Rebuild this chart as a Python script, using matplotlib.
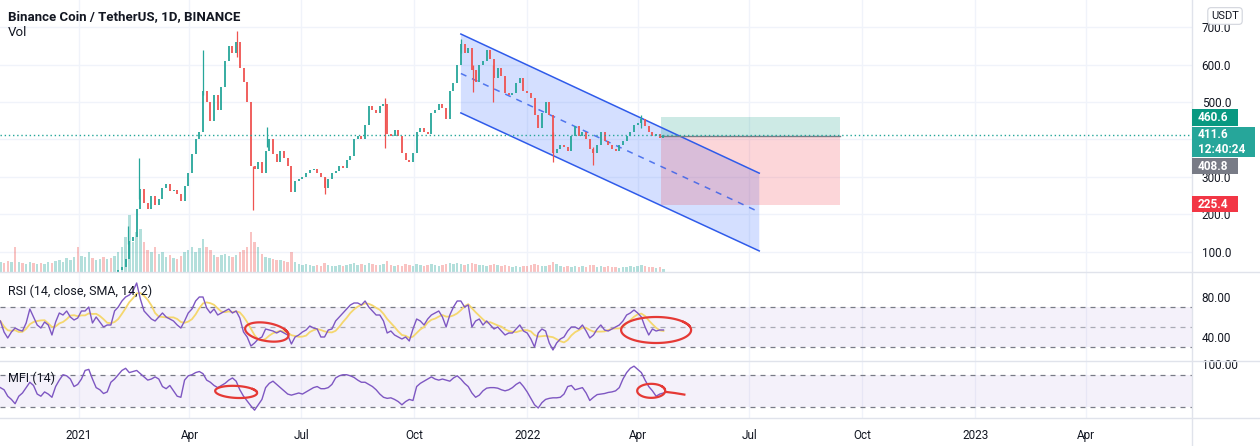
import numpy as np
import pandas as pd
import matplotlib
matplotlib.use('Agg')
import matplotlib.pyplot as plt
import matplotlib.dates as mdates
from matplotlib.patches import Rectangle, Polygon
from matplotlib.lines import Line2D
from matplotlib.ticker import FormatStrFormatter, FuncFormatter

plt.rcParams['font.family'] = ['Roboto', 'DejaVu Sans']

# 3-day samples of BNB/USDT, starting 2020-10-29
start_date = '2020-10-29'
step_days = 3
closes = [30, 29.5, 28.5, 29, 28.5, 29, 28.5, 30, 31, 30, 31,
          30, 30.5, 31, 30, 32, 33, 34, 34, 35, 38, 37,
          39, 42, 44, 41, 43, 44, 39, 42, 40, 45, 50,
          60, 80, 128, 138, 214, 268, 230, 215, 250, 225, 240,
          270, 280, 262, 265, 255, 235, 275, 310, 360, 400, 420,
          530, 500, 450, 520, 480, 540, 610, 650, 630, 660, 590,
          555, 500, 330, 320, 340, 310, 370, 400, 360, 340, 370,
          350, 330, 260, 290, 295, 300, 310, 318, 322, 310, 300,
          270, 295, 310, 315, 330, 325, 345, 355, 400, 410, 400,
          440, 490, 480, 470, 490, 495, 415, 410, 425, 410, 365,
          345, 340, 365, 420, 430, 420, 415, 470, 480, 495, 485,
          455, 530, 550, 600, 655, 630, 645, 585, 555, 600, 610,
          640, 615, 565, 590, 570, 525, 520, 525, 550, 565, 530,
          525, 510, 465, 430, 470, 500, 465, 365, 375, 385, 380,
          370, 410, 435, 410, 420, 400, 375, 365, 385, 420, 395,
          385, 375, 370, 385, 395, 410, 420, 440, 445, 455, 435,
          420, 410, 415, 405, 411.6]
volumes = [1.0, 0.9, 1.1, 1.0, 2.5, 1.0, 0.9, 0.8, 1.0, 0.9, 0.8,
           0.9, 0.8, 1.0, 0.9, 1.1, 1.2, 1.0, 1.4, 1.2, 1.5, 2.5,
           1.6, 1.5, 2.0, 1.4, 1.2, 1.3, 1.5, 1.3, 1.4, 1.6, 2.0,
           2.5, 3.5, 5.7, 3.0, 4.0, 4.3, 3.0, 2.2, 2.0, 2.5, 1.8,
           2.0, 1.5, 1.7, 1.4, 1.3, 1.6, 2.0, 2.2, 2.5, 2.0, 2.4,
           3.3, 2.5, 2.2, 1.7, 1.5, 1.7, 1.8, 1.6, 1.5, 1.7, 2.0,
           2.2, 2.5, 4.0, 3.0, 2.5, 1.8, 1.5, 1.4, 1.3, 1.2, 1.2,
           1.1, 1.0, 2.0, 1.0, 0.8, 0.7, 0.8, 0.7, 0.6, 0.7, 0.6,
           0.9, 0.7, 0.6, 0.6, 0.7, 0.6, 0.7, 0.8, 0.9, 0.7, 0.8,
           0.7, 0.9, 0.8, 0.7, 0.7, 0.8, 1.1, 0.7, 0.6, 0.7, 0.6,
           0.8, 0.7, 0.6, 0.8, 0.7, 0.6, 0.7, 0.8, 0.7, 0.6, 0.7,
           0.8, 0.9, 0.8, 0.9, 0.8, 0.7, 0.8, 0.9, 0.8, 0.7, 0.7,
           0.6, 0.7, 0.8, 0.7, 0.6, 0.7, 0.6, 0.5, 0.6, 0.5, 0.6,
           0.6, 0.7, 0.8, 0.7, 0.6, 0.6, 0.7, 1.0, 0.8, 0.6, 0.5,
           0.6, 0.5, 0.6, 0.5, 0.6, 0.5, 0.7, 0.7, 0.5, 0.6, 0.5,
           0.6, 0.5, 0.5, 0.4, 0.5, 0.5, 0.6, 0.5, 0.6, 0.7, 0.6,
           0.5, 0.5, 0.4, 0.5, 0.3]
rsi = [56, 45, 39, 45, 49, 47, 46, 54, 68, 60, 52,
       49, 55, 52, 42, 55, 64, 62, 66, 60, 57, 59,
       66, 66, 70, 54, 60, 55, 50, 52, 52, 66, 70,
       76, 80, 82, 86, 94, 78, 66, 62, 58, 56, 60,
       64, 60, 58, 56, 52, 49, 56, 64, 68, 76, 80,
       80, 69, 64, 68, 62, 64, 66, 68, 64, 66, 59,
       45, 40, 31, 34, 38, 40, 48, 47, 46, 44, 46,
       44, 42, 33, 40, 42, 45, 47, 51, 49, 48, 40,
       40, 47, 48, 56, 60, 64, 68, 72, 74, 74, 72,
       76, 70, 66, 62, 62, 56, 44, 46, 42, 40, 38,
       40, 36, 48, 58, 56, 52, 58, 62, 64, 66, 60,
       50, 62, 70, 76, 76, 70, 72, 50, 56, 58, 52,
       56, 52, 48, 50, 46, 42, 44, 44, 48, 52, 46,
       44, 38, 30, 44, 48, 46, 34, 27, 34, 38, 40,
       46, 50, 50, 48, 52, 46, 39, 42, 48, 52, 47,
       46, 48, 50, 52, 56, 62, 64, 67, 64, 60, 50,
       42, 48, 46, 47, 47]
mfi = [56, 52, 40, 34, 26, 40, 46, 56, 66, 60, 44,
       40, 48, 44, 38, 58, 70, 80, 78, 72, 58, 62,
       72, 88, 90, 72, 56, 52, 45, 48, 66, 72, 80,
       88, 92, 84, 86, 88, 82, 76, 70, 72, 76, 72,
       58, 54, 60, 50, 40, 38, 70, 78, 80, 84, 86,
       82, 70, 66, 60, 56, 60, 64, 70, 74, 68, 52,
       40, 31, 22, 14, 24, 34, 56, 64, 68, 62, 56,
       50, 44, 42, 44, 46, 44, 48, 52, 56, 58, 54,
       54, 56, 62, 74, 78, 80, 80, 78, 75, 70, 66,
       66, 62, 58, 52, 44, 38, 36, 37, 34, 30, 24,
       30, 34, 32, 58, 64, 68, 72, 76, 72, 70, 72,
       70, 68, 74, 78, 72, 64, 58, 46, 38, 42, 50,
       55, 56, 56, 55, 52, 50, 52, 56, 62, 66, 58,
       48, 36, 24, 18, 28, 34, 36, 37, 37, 38, 44,
       58, 60, 52, 54, 56, 46, 32, 38, 43, 44, 45,
       47, 48, 50, 56, 72, 84, 92, 96, 90, 84, 70,
       58, 50, 40, 44, 46]

# long wicks that stand out
wick_dates = ['2021-02-10', '2021-02-19', '2021-04-12', '2021-05-10', '2021-05-23',
              '2021-06-03', '2021-07-20', '2021-09-07', '2021-11-08', '2021-11-18',
              '2021-12-04', '2022-01-22', '2022-02-24', '2022-04-04']
wick_lows = [120, 240, 520, 620, 211, 380, 255, 377, 630, 527, 500, 340, 332, 430]
wick_highs = [170, 350, 640, 690, 330, 433, 300, 510, 669, 600, 600, 420, 380, 465]

# 400.0 sits under the price tags, as on the original
price_grid = [100, 200, 300, 400, 500, 600, 700]
price_ticks = [100, 200, 300, 500, 600, 700]
rsi_ticks = [40, 80]
mfi_ticks = [100]

channel_dates = ['2021-11-08', '2022-07-09']
channel_upper = [682, 310]
channel_lower = [471, 102]

position_dates = ['2022-04-20', '2022-09-13']
entry_price = 408.8
target_price = 460.6
stop_price = 225.4
last_price = 411.6

UP = '#26a69a'
DOWN = '#ef5350'
TXT = '#131722'
GRID = '#f0f3fa'
SEP = '#e0e3eb'
W, H = 1260, 446
RIGHT = 1192


def fx(px):
    return px / W


def fy(py):
    return 1 - py / H


assert len(closes) == len(volumes) == len(rsi) == len(mfi)
n = len(closes)
dates = pd.Timestamp(start_date) + pd.to_timedelta(np.arange(n) * step_days, 'D')
dnum = mdates.date2num(dates)
opens = [closes[0]] + closes[:-1]
cols = [UP if c >= o else DOWN for o, c in zip(opens, closes)]

fig = plt.figure(figsize=(12.6, 4.46), dpi=100)
ax_p = fig.add_axes([0, fy(272), fx(RIGHT), 272 / H])
ax_r = fig.add_axes([0, fy(361), fx(RIGHT), 89 / H], sharex=ax_p)
ax_m = fig.add_axes([0, fy(418), fx(RIGHT), 57 / H], sharex=ax_p)

jan21 = mdates.date2num(pd.Timestamp('2021-01-01'))
x0, x1 = jan21 - 64.3, jan21 + 906.4
ax_p.set_xlim(x0, x1)
ax_p.set_ylim(45.7, 773)
ax_r.set_ylim(16, 105)
ax_m.set_ylim(-0.6, 105.6)
px_per_day = RIGHT / (x1 - x0)

for ax in (ax_p, ax_r, ax_m):
    for s in ax.spines.values():
        s.set_visible(False)
    ax.tick_params(length=0, labelsize=8.5, labelcolor=TXT)
    ax.yaxis.tick_right()
    ax.xaxis.set_major_locator(mdates.MonthLocator(bymonth=[1, 4, 7, 10]))
    ax.grid(axis='x', color=GRID, lw=1, zorder=0)
    ax.set_axisbelow(True)
for lvl in price_grid:
    ax_p.axhline(lvl, color=GRID, lw=1, zorder=0)

ax_p.tick_params(labelbottom=False, pad=7)
ax_r.tick_params(labelbottom=False, pad=7)
ax_m.tick_params(axis='y', pad=7)
ax_m.tick_params(axis='x', pad=8)
ax_p.set_yticks(price_ticks)
ax_p.yaxis.set_major_formatter(FormatStrFormatter('%.1f'))
ax_r.set_yticks(rsi_ticks)
ax_r.yaxis.set_major_formatter(FormatStrFormatter('%.2f'))
ax_m.set_yticks(mfi_ticks)
ax_m.yaxis.set_major_formatter(FormatStrFormatter('%.2f'))


def quarter_label(x, pos):
    d = mdates.num2date(x)
    return str(d.year) if d.month == 1 else d.strftime('%b')


ax_m.xaxis.set_major_formatter(FuncFormatter(quarter_label))

# volume at the bottom of the price pane
vol_top = max(volumes) * 4.8
ax_p.bar(dnum, np.array(volumes) / vol_top, width=2.0, color=cols, alpha=0.35,
         transform=ax_p.get_xaxis_transform(), zorder=1)

# channel
cd = mdates.date2num(pd.to_datetime(channel_dates))
ax_p.add_patch(Polygon([(cd[0], channel_upper[0]), (cd[1], channel_upper[1]),
                        (cd[1], channel_lower[1]), (cd[0], channel_lower[0])],
                       closed=True, fc='#2962ff', alpha=0.2, lw=0, zorder=2))
ax_p.plot(cd, channel_upper, color='#2f5bea', lw=1.1, zorder=3)
ax_p.plot(cd, channel_lower, color='#2f5bea', lw=1.1, zorder=3)
mid = [(u + l) / 2 for u, l in zip(channel_upper, channel_lower)]
ax_p.plot(cd, mid, color='#2f5bea', lw=1.1, dashes=(4, 4), alpha=0.8, zorder=3)

# long position box
pd_ = mdates.date2num(pd.to_datetime(position_dates))
ax_p.add_patch(Rectangle((pd_[0], entry_price), pd_[1] - pd_[0], target_price - entry_price,
                         fc='#089981', alpha=0.2, lw=0, zorder=2))
ax_p.add_patch(Rectangle((pd_[0], stop_price), pd_[1] - pd_[0], entry_price - stop_price,
                         fc='#f23645', alpha=0.2, lw=0, zorder=2))
ax_p.plot(pd_, [entry_price, entry_price], color='#787b86', lw=1, zorder=3)

# candles
ax_p.vlines(dnum, opens, closes, colors=cols, lw=1.3, zorder=4)
wd = mdates.date2num(pd.to_datetime(wick_dates))
idx = np.clip(np.searchsorted(dnum, wd), 0, n - 1)
ax_p.vlines(wd, wick_lows, wick_highs, colors=[cols[i] for i in idx], lw=0.9, zorder=4)

ax_p.axhline(last_price, color=UP, lw=1, ls=(0, (1, 2)), zorder=5)

# RSI pane
ax_r.axhspan(30, 70, color='#7e57c2', alpha=0.08, lw=0)
for lvl, a in ((70, 1), (50, 0.6), (30, 1)):
    ax_r.axhline(lvl, color='#787b86', lw=0.9, dashes=(4, 4), alpha=a)
rsi_ma = pd.Series(rsi).rolling(5, min_periods=1).mean()
ax_r.plot(dnum, rsi_ma, color='#f5d76e', lw=1.3, zorder=3)
ax_r.plot(dnum, rsi, color='#7e57c2', lw=1, zorder=4)

# MFI pane
ax_m.axhspan(20, 80, color='#7e57c2', alpha=0.08, lw=0)
for lvl in (80, 20):
    ax_m.axhline(lvl, color='#787b86', lw=0.9, dashes=(4, 4))
ax_m.plot(dnum, mfi, color='#7e57c2', lw=1, zorder=4)


def hand_ellipse(ax, day, val, a_px, b_px, angle, tail=None):
    lo, hi = ax.get_ylim()
    ppu = ax.bbox.height / (hi - lo)
    t = np.linspace(0.3, 0.3 + 2 * np.pi * 1.06, 90)
    xp, yp = a_px * np.cos(t), b_px * np.sin(t)
    th = np.deg2rad(angle)
    xr = xp * np.cos(th) - yp * np.sin(th)
    yr = xp * np.sin(th) + yp * np.cos(th)
    cx = mdates.date2num(pd.Timestamp(day))
    ax.plot(cx + xr / px_per_day, val + yr / ppu, color='#e53935', lw=1.6, zorder=6)
    if tail is not None:
        tx = mdates.date2num(pd.to_datetime(tail[0]))
        ax.plot(tx, tail[1], color='#e53935', lw=1.6, zorder=6)


hand_ellipse(ax_r, '2021-06-03', 45, 22, 9, -10)
hand_ellipse(ax_r, '2022-04-16', 47, 35, 13, 0)
hand_ellipse(ax_m, '2021-05-09', 48, 21, 6, -3)
hand_ellipse(ax_m, '2022-04-12', 50, 14, 7, 0,
             tail=(['2022-04-24', '2022-05-01', '2022-05-09'], [48, 46, 43]))

# pane separators
for yy in (272, 361, 418):
    fig.add_artist(Line2D([0, 1], [fy(yy)] * 2, transform=fig.transFigure, color=SEP, lw=1))
fig.add_artist(Line2D([fx(RIGHT)] * 2, [0, 1], transform=fig.transFigure, color=SEP, lw=1))

# legends
fig.text(fx(8), fy(17), 'Binance Coin / TetherUS, 1D, BINANCE', fontsize=9.5,
         fontweight='bold', color=TXT, va='center')
fig.text(fx(8), fy(33), 'Vol', fontsize=9.5, color=TXT, va='center')
fig.text(fx(8), fy(291), 'RSI (14, close, SMA, 14, 2)', fontsize=9, color=TXT, va='center')
fig.text(fx(8), fy(378), 'MFI (14)', fontsize=9, color=TXT, va='center')

# price labels on the scale
tags = [(117.5, 17, '#089981', '460.6', 46),
        (142, 30, '#26a69a', '411.6\n12:40:24', 63),
        (166, 16, '#787b86', '408.8', 46),
        (204, 16, '#f23645', '225.4', 46)]
for yc, h, c, s, w in tags:
    fig.add_artist(Rectangle((fx(RIGHT), fy(yc + h / 2)), w / W, h / H,
                             transform=fig.transFigure, fc=c, ec='none', zorder=10))
    fig.text(fx(RIGHT + 6), fy(yc), s, fontsize=8.5, color='white', fontweight='bold',
             va='center', ha='left', linespacing=1.15, zorder=11)
fig.text(fx(1225), fy(16), 'USDT', fontsize=8, color=TXT, ha='center', va='center', zorder=11,
         bbox=dict(boxstyle='round,pad=0.3', fc='white', ec='#d1d4dc', lw=0.8))

fig.savefig('out.png', dpi=100, facecolor='white')
